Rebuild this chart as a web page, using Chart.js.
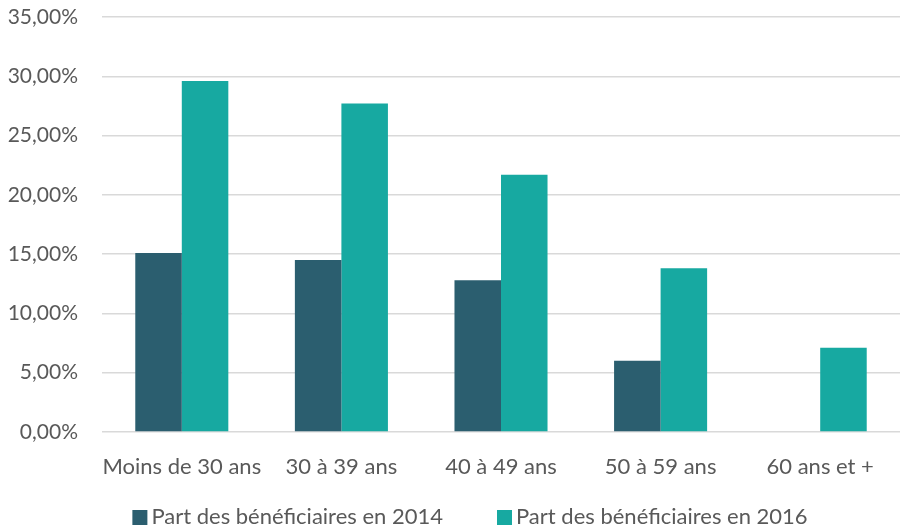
<!DOCTYPE html>
<html>
<head>
<meta charset="utf-8">
<script src="https://cdn.jsdelivr.net/npm/chart.js@4.4.1/dist/chart.umd.min.js"></script>
<style>
  html, body { margin: 0; padding: 0; background: #ffffff; }
  #wrap { width: 900px; height: 528px; position: relative; }
</style>
</head>
<body>
<div id="wrap"><canvas id="chart" width="900" height="528"></canvas></div>
<script>
// Tranches d'âge
const categories = ['Moins de 30 ans', '30 à 39 ans', '40 à 49 ans', '50 à 59 ans', '60 ans et +'];
// Part des bénéficiaires (en %)
const part2014 = [15.1, 14.5, 12.8, 6.0, null];
const part2016 = [29.6, 27.7, 21.7, 13.8, 7.1];
const seriesNames = ['Part des bénéficiaires en 2014', 'Part des bénéficiaires en 2016'];
const yTicks = [0, 5, 10, 15, 20, 25, 30, 35];

const FONT = 'Lato, "Open Sans", sans-serif';
const TEXT = '#595959';

function fmtPct(v) {
  return v.toFixed(2).replace('.', ',') + '%';
}

// Bottom legend: square marker, small gap, label; wide spacing between entries
const bottomLegend = {
  id: 'bottomLegend',
  afterDraw(chart) {
    const ctx = chart.ctx;
    const box = 15, gap = 4, spacing = 54;
    ctx.save();
    ctx.font = '22px ' + FONT;
    ctx.textBaseline = 'middle';
    const items = chart.data.datasets.map(ds => ({
      text: ds.label, color: ds.backgroundColor, w: ctx.measureText(ds.label).width
    }));
    const total = items.reduce((s, it) => s + box + gap + it.w, 0) + spacing * (items.length - 1);
    let x = (chart.width - total) / 2 + 20;
    const cy = chart.height - 11;
    items.forEach(it => {
      ctx.fillStyle = it.color;
      ctx.fillRect(x, cy - 7, box, box);
      ctx.fillStyle = TEXT;
      ctx.fillText(it.text, x + box + gap, cy);
      x += box + gap + it.w + spacing;
    });
    ctx.restore();
  }
};

new Chart(document.getElementById('chart'), {
  type: 'bar',
  data: {
    labels: categories,
    datasets: [
      { label: seriesNames[0], data: part2014, backgroundColor: '#2B5E6F' },
      { label: seriesNames[1], data: part2016, backgroundColor: '#17A9A1' }
    ]
  },
  plugins: [bottomLegend],
  options: {
    responsive: false,
    animation: false,
    devicePixelRatio: 1,
    layout: { autoPadding: false, padding: { top: 17, right: 0, bottom: 52, left: 7 } },
    datasets: { bar: { categoryPercentage: 0.583, barPercentage: 1.0 } },
    scales: {
      x: {
        grid: { display: false },
        border: { display: false },
        afterFit: (axis) => { axis.height = 44; },
        ticks: { color: TEXT, font: { family: FONT, size: 22 }, padding: 14, maxRotation: 0, autoSkip: false }
      },
      y: {
        min: 0,
        max: 35,
        afterBuildTicks: (axis) => { axis.ticks = yTicks.map(v => ({ value: v })); },
        afterFit: (axis) => { axis.width = 95; axis.paddingTop = 0; axis.paddingBottom = 0; },
        grid: { color: '#D9D9D9', lineWidth: 1.5, drawTicks: false },
        border: { display: false },
        ticks: { color: TEXT, font: { family: FONT, size: 21 }, padding: 24, callback: (v) => fmtPct(v) }
      }
    },
    plugins: {
      tooltip: { enabled: false },
      legend: { display: false }
    }
  }
});
</script>
</body>
</html>
